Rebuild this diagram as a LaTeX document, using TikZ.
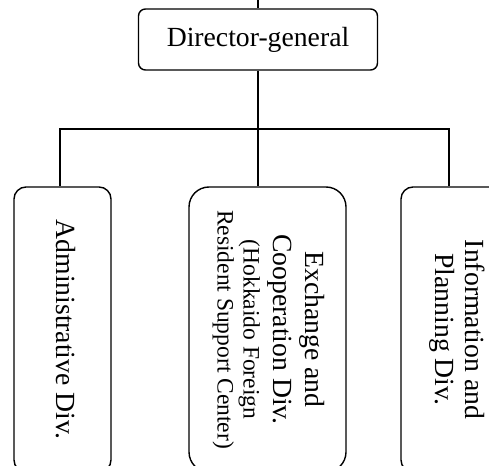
\documentclass[tikz,border=0pt]{standalone}
\usepackage{fontspec}
\usepackage{graphicx}
\setmainfont{Liberation Serif}
\usetikzlibrary{positioning}
\tikzset{
  office/.style={draw, line width=1.4pt, inner sep=0pt, align=center},
  divbox/.style={office, minimum height=285pt},
  link/.style={line width=1.4pt}
}
\newcommand{\sideways}[1]{\rotatebox{-90}{\renewcommand{\arraystretch}{1}\begin{tabular}{@{}c@{}}#1\end{tabular}}}
\newcommand{\smallline}{\fontsize{23.5}{26}\selectfont}
\begin{document}
\begin{tikzpicture}[x=1pt, y=-1pt, font=\fontsize{27.7}{30}\selectfont]
  \useasboundingbox (0,0) rectangle (489,465);
  \coordinate (top) at (258,0);
  \node(dg) [office, rounded corners=7pt, minimum width=239pt, minimum height=61pt] at (258,39.5) {Director-general};
  \node(adm) [divbox, rounded corners=12pt, minimum width=97pt] at (62.5,329.5) {\sideways{Administrative Div.}};
  \node(exc) [divbox, rounded corners=20pt, minimum width=157pt] at (267.5,329.5)
    {\sideways{Exchange and\\[2pt]Cooperation Div.\\[0pt]\smallline (Hokkaido Foreign\\[-4pt]\smallline Resident Support Center)}};
  \node(inf) [divbox, rounded corners=12pt, minimum width=110pt] at (456,329.5) {\sideways{Information and\\Planning Div.}};
  \coordinate (bar) at (258,129);
  \draw[link] (top) -- (dg.north);
  \draw[link] (dg.south) -- (bar);
  \draw[link] (bar) -- (exc.north -| bar);
  \draw[link] ([xshift=-2.5pt]adm.north) |- (bar) -| ([xshift=-7pt]inf.north);
\end{tikzpicture}
\end{document}
